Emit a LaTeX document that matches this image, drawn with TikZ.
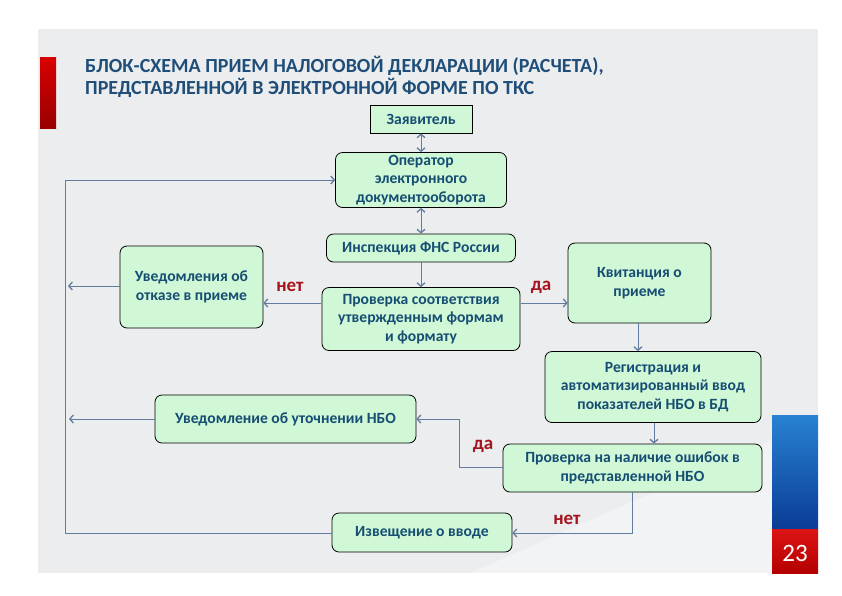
\documentclass[tikz,border=0pt]{standalone}
\usepackage{fontspec}
\setmainfont{Carlito}
\usetikzlibrary{arrows.meta,shadings}
\definecolor{bgc}{RGB}{236,237,239}
\definecolor{boxc}{RGB}{208,247,214}
\definecolor{txtc}{RGB}{22,78,115}
\definecolor{ttlc}{RGB}{31,78,121}
\definecolor{linec}{RGB}{96,125,160}
\definecolor{redl}{RGB}{165,20,30}
\tikzset{
  fbox/.style={draw=black, line width=0.8pt, fill=boxc, rounded corners=7pt, align=center,
    text=txtc, font=\bfseries\fontsize{15.6}{18.5}\selectfont, inner sep=1pt},
  sqbox/.style={fbox, rounded corners=0pt},
  conn/.style={draw=linec, line width=0.9pt},
  arr/.style={conn, -{Straight Barb[length=3.5pt,width=8pt,line width=1.3pt]}},
  darr/.style={conn, {Straight Barb[length=3.5pt,width=8pt,line width=1.3pt]}-{Straight Barb[length=3.5pt,width=8pt,line width=1.3pt]}},
  lbl/.style={text=redl, font=\bfseries\fontsize{19}{22}\selectfont, inner sep=0pt}
}
\begin{document}
\begin{tikzpicture}[x=1pt,y=-1pt]
\useasboundingbox (0,0) rectangle (842,595);
\fill[white] (0,0) rectangle (842,595);
\fill[bgc] (38,29) rectangle (818,573);
\fill[white,opacity=0.35] (470,573) -- (818,420) -- (818,573) -- cycle;
% left red bar
\shade[top color=red!85!black, bottom color=red!60!black] (40,57) rectangle (56,128);
% right blue/red bar
\shade[top color={rgb,255:red,40;green,130;blue,210}, bottom color={rgb,255:red,10;green,60;blue,150}] (772,415) rectangle (818,529);
\shade[top color={rgb,255:red,220;green,20;blue,20}, bottom color={rgb,255:red,180;green,0;blue,0}] (772,529) rectangle (818,573);
\node[text=white, font=\fontsize{25}{28}\selectfont, inner sep=0pt] (pg) at (795,553) {23};
% title
\node[anchor=west, text=ttlc, font=\bfseries\fontsize{20}{22}\selectfont, align=left, inner sep=0pt] (ttl) at (85,77)
  {БЛОК-СХЕМА ПРИЕМ НАЛОГОВОЙ ДЕКЛАРАЦИИ (РАСЧЕТА),\\ПРЕДСТАВЛЕННОЙ В ЭЛЕКТРОННОЙ ФОРМЕ ПО ТКС};
% nodes
\node[sqbox, minimum width=102pt, minimum height=28pt] (zay) at (421,119) {Заявитель};
\node[fbox, minimum width=171pt, minimum height=55pt] (oper) at (421,180) {Оператор\\электронного\\документооборота};
\node[fbox, minimum width=189pt, minimum height=28pt] (insp) at (421,248) {Инспекция ФНС России};
\node[fbox, minimum width=143pt, minimum height=82pt] (otk) at (191.5,287) {Уведомления об\\отказе в приеме};
\node[fbox, minimum width=198pt, minimum height=63pt] (prov) at (421,319) {Проверка соответствия\\утвержденным формам\\и формату};
\node[fbox, minimum width=143pt, minimum height=80pt] (kvit) at (639.5,283) {Квитанция о\\приеме};
\node[fbox, minimum width=216pt, minimum height=71pt] (reg) at (653,387) {Регистрация и\\автоматизированный ввод\\показателей НБО в БД};
\node[fbox, minimum width=261pt, minimum height=48pt] (utoch) at (285.5,419) {Уведомление об уточнении НБО};
\node[fbox, minimum width=259pt, minimum height=48pt] (osh) at (632.5,468) {Проверка на наличие ошибок в\\представленной НБО};
\node[fbox, minimum width=180pt, minimum height=39pt] (izv) at (422,532.5) {Извещение о вводе};
% coordinates
\coordinate (ltop) at (65,180);
\coordinate (lbot) at (65,533);
\coordinate (otkend) at (68,286);
\coordinate (utend) at (69,419);
\coordinate (dajog) at (459,467);
\coordinate (pl) at (321,303);
\coordinate (pr) at (521,303);
% connectors
\draw[darr] (zay.south) -- (oper.north);
\draw[darr] (oper.south) -- (insp.north);
\draw[arr] (insp.south) -- (prov.north);
\draw[arr] (pl) -- (pl -| otk.east);
\draw[arr] (pr) -- (pr -| kvit.west);
\draw[arr] (kvit.south -| 638,0) -- (reg.north -| 638,0);
\draw[arr] (reg.south -| 654,0) -- (osh.north -| 654,0);
\draw[arr] (osh.west |- dajog) -- (dajog) -- (dajog |- utoch.east) -- (utoch.east);
\draw[arr] (osh.south -| 632,0) -- (632,533) -- (izv.east |- 0,533);
\draw[arr] (otk.west |- otkend) -- (otkend);
\draw[arr] (utoch.west) -- (utend);
\draw[arr] (izv.west |- lbot) -- (lbot) -- (ltop) -- (oper.west |- ltop);
% labels
\node[lbl] (net1) at (290,287) {нет};
\node[lbl] (da1) at (541,287) {да};
\node[lbl] (da2) at (483,446) {да};
\node[lbl] (net2) at (567,520) {нет};
\end{tikzpicture}
\end{document}
